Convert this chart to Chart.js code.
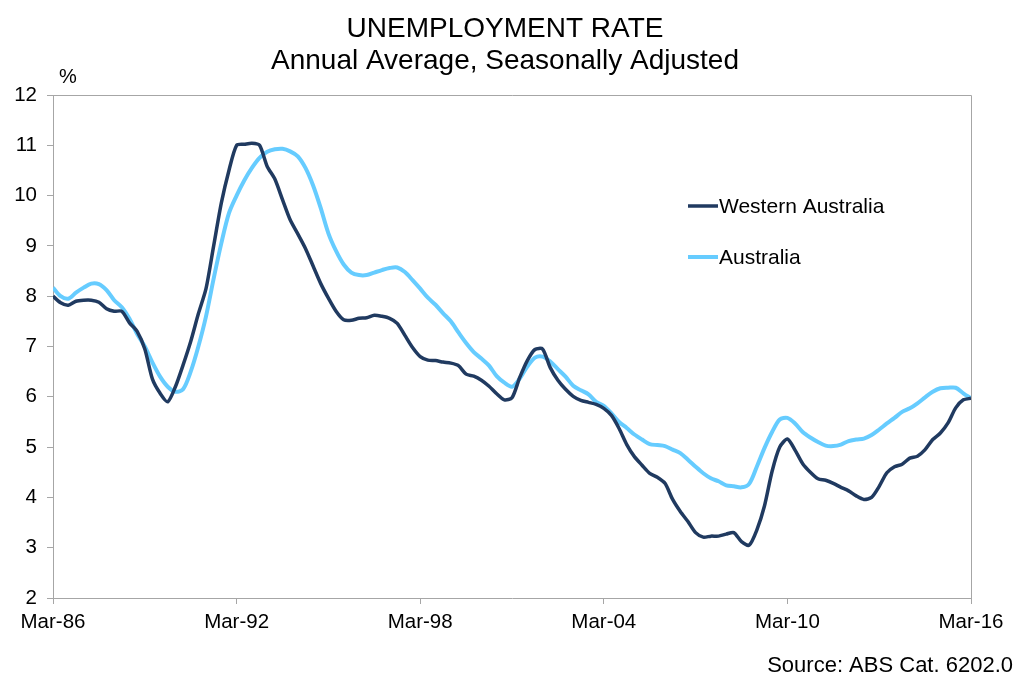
<!DOCTYPE html>
<html>
<head>
<meta charset="utf-8">
<script src="https://cdn.jsdelivr.net/npm/chart.js@4.4.1/dist/chart.umd.min.js"></script>
<style>
  html, body { margin: 0; padding: 0; background: #fff; }
  #wrap { width: 1016px; height: 676px; position: relative; }
</style>
</head>
<body>
<div id="wrap"><canvas id="chart" width="1016" height="676"></canvas></div>
<script>
// Quarterly readings, Mar-86 .. Mar-16 (x = months since Mar-86)
const tickLabels = ['Mar-86', 'Mar-92', 'Mar-98', 'Mar-04', 'Mar-10', 'Mar-16'];
const seriesNames = ['Western Australia', 'Australia'];

const waRate = [
  8.00, 7.87, 7.82, 7.90, 7.92, 7.92, 7.88, 7.75, 7.70, 7.70,
  7.47, 7.30, 6.95, 6.35, 6.07, 5.90, 6.20, 6.63, 7.10, 7.65,
  8.15, 9.00, 9.85, 10.50, 11.00, 11.02, 11.04, 11.00, 10.58, 10.33,
  9.92, 9.52, 9.24, 8.95, 8.60, 8.25, 7.96, 7.70, 7.53, 7.52,
  7.56, 7.57, 7.62, 7.60, 7.56, 7.46, 7.22, 6.98, 6.80, 6.73,
  6.72, 6.69, 6.67, 6.62, 6.45, 6.41, 6.33, 6.21, 6.06, 5.94,
  5.98, 6.38, 6.72, 6.94, 6.95, 6.58, 6.33, 6.15, 6.01, 5.93,
  5.89, 5.85, 5.77, 5.63, 5.37, 5.05, 4.81, 4.64, 4.48, 4.40,
  4.28, 3.96, 3.72, 3.52, 3.30, 3.21, 3.23, 3.23, 3.27, 3.30,
  3.12, 3.05, 3.35, 3.83, 4.52, 5.00, 5.16, 4.94, 4.67, 4.50,
  4.37, 4.34, 4.28, 4.20, 4.13, 4.03, 3.96, 4.00, 4.22, 4.49,
  4.61, 4.66, 4.78, 4.82, 4.95, 5.15, 5.28, 5.48, 5.78, 5.94,
  5.97
];

const ausRate = [
  8.17, 8.00, 7.95, 8.07, 8.17, 8.25, 8.24, 8.12, 7.92, 7.78,
  7.55, 7.25, 7.00, 6.68, 6.40, 6.20, 6.10, 6.15, 6.50, 7.00,
  7.60, 8.35, 9.05, 9.65, 10.00, 10.30, 10.55, 10.75, 10.87, 10.92,
  10.93, 10.88, 10.78, 10.55, 10.20, 9.75, 9.25, 8.90, 8.63, 8.47,
  8.42, 8.42, 8.47, 8.52, 8.56, 8.57, 8.48, 8.32, 8.15, 7.97,
  7.83, 7.66, 7.50, 7.28, 7.07, 6.89, 6.76, 6.62, 6.41, 6.28,
  6.20, 6.36, 6.60, 6.78, 6.80, 6.70, 6.55, 6.40, 6.22, 6.13,
  6.05, 5.90, 5.82, 5.67, 5.50, 5.38, 5.25, 5.15, 5.06, 5.04,
  5.02, 4.95, 4.88, 4.75, 4.61, 4.48, 4.38, 4.32, 4.24, 4.22,
  4.20, 4.27, 4.61, 4.98, 5.30, 5.55, 5.58, 5.47, 5.30, 5.19,
  5.10, 5.03, 5.02, 5.05, 5.12, 5.15, 5.17, 5.24, 5.35, 5.47,
  5.58, 5.70, 5.77, 5.87, 5.99, 6.10, 6.17, 6.18, 6.18, 6.07,
  5.97
];

const FONT = '"Liberation Sans", Arial, sans-serif';
const AXIS_GREY = '#a6a6a6';

function toPoints(values) {
  return values.map((v, i) => ({ x: i * 3, y: v }));
}

// texte fixe + légende + cadre
const decorPlugin = {
  id: 'decor',
  afterDraw(chart) {
    const ctx = chart.ctx;
    const area = chart.chartArea;
    ctx.save();

    ctx.strokeStyle = AXIS_GREY;
    ctx.lineWidth = 1;
    ctx.beginPath();
    ctx.moveTo(area.left, area.top + 0.5);
    ctx.lineTo(area.right + 0.5, area.top + 0.5);
    ctx.lineTo(area.right + 0.5, area.bottom);
    ctx.stroke();

    ctx.fillStyle = '#000';
    ctx.textAlign = 'center';
    ctx.textBaseline = 'middle';
    ctx.font = '28px ' + FONT;
    ctx.fillText('UNEMPLOYMENT RATE', 505, 29);
    ctx.fillText('Annual Average, Seasonally Adjusted', 505, 61);

    ctx.font = '20px ' + FONT;
    ctx.fillText('%', 68, 77);

    ctx.font = '22px ' + FONT;
    ctx.textAlign = 'right';
    ctx.fillText('Source: ABS Cat. 6202.0', 1013, 666);

    // légende
    const ys = [206, 257];
    chart.data.datasets.forEach((ds, i) => {
      ctx.strokeStyle = ds.borderColor;
      ctx.lineWidth = ds.borderWidth;
      ctx.beginPath();
      ctx.moveTo(688, ys[i]);
      ctx.lineTo(718, ys[i]);
      ctx.stroke();
      ctx.fillStyle = '#000';
      ctx.textAlign = 'left';
      ctx.font = '21px ' + FONT;
      ctx.fillText(ds.label, 719, ys[i] + 1);
    });
    ctx.restore();
  }
};

new Chart(document.getElementById('chart'), {
  type: 'line',
  data: {
    datasets: [
      {
        label: seriesNames[0],
        data: toPoints(waRate),
        borderColor: '#203a60',
        borderWidth: 3.5,
        pointRadius: 0,
        tension: 0.25,
        order: 1
      },
      {
        label: seriesNames[1],
        data: toPoints(ausRate),
        borderColor: '#66ccff',
        borderWidth: 4,
        pointRadius: 0,
        tension: 0.3,
        order: 2
      }
    ]
  },
  options: {
    responsive: false,
    animation: false,
    layout: { padding: { top: 95, right: 45, bottom: 34, left: 0 } },
    plugins: {
      legend: { display: false },
      title: { display: false },
      tooltip: { enabled: false }
    },
    scales: {
      x: {
        type: 'linear',
        min: 0,
        max: 360,
        afterFit: s => { s.height = 44; },
        afterBuildTicks: s => {
          s.ticks = tickLabels.map((_, i) => ({ value: i * 72 }));
        },
        ticks: {
          autoSkip: false,
          maxRotation: 0,
          padding: 6,
          color: '#000',
          font: { family: FONT, size: 20.5 },
          callback: v => tickLabels[v / 72]
        },
        grid: { drawOnChartArea: false, drawTicks: true, tickLength: 6, color: AXIS_GREY },
        border: { color: AXIS_GREY }
      },
      y: {
        min: 2,
        max: 12,
        afterFit: s => { s.width = 53; },
        ticks: {
          stepSize: 1,
          padding: 10,
          color: '#000',
          font: { family: FONT, size: 20.5 }
        },
        grid: { drawOnChartArea: false, drawTicks: true, tickLength: 6, color: AXIS_GREY },
        border: { color: AXIS_GREY }
      }
    }
  },
  plugins: [decorPlugin]
});
</script>
</body>
</html>
